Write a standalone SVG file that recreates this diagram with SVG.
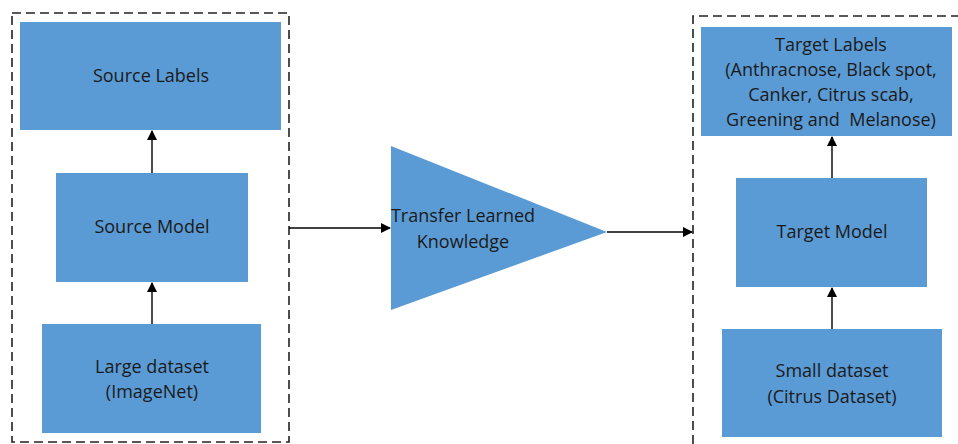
<svg xmlns="http://www.w3.org/2000/svg" width="958" height="444" viewBox="0 0 958 444">
<defs>
<marker id="ah" markerWidth="10" markerHeight="10" refX="9" refY="5" orient="auto" markerUnits="userSpaceOnUse">
<path d="M0,0 L10,5 L0,10 z" fill="#000"/>
</marker>
<style>
.box{fill:#5B9BD5;}
.grp{fill:none;stroke:#222;stroke-width:1.6;stroke-dasharray:9,5;}
.t{font-family:"Open Sans","Liberation Sans",sans-serif;font-size:18px;fill:#1a1a1a;text-anchor:middle;}
.c{fill:none;stroke:#000;stroke-width:1.4;}
</style>
</defs>
<rect width="958" height="444" fill="#fff"/>
<g id="source-domain">
<rect class="grp" x="12" y="13" width="277" height="429"/>
</g>
<g id="target-domain">
<path class="grp" d="M693,444 L693,16 L960,16"/>
</g>
<g id="source-labels">
<rect class="box" x="20" y="22" width="261" height="108"/>
<text class="t" x="151" y="82">Source Labels</text>
</g>
<g id="source-model">
<rect class="box" x="56" y="173" width="192" height="109"/>
<text class="t" x="152" y="233">Source Model</text>
</g>
<g id="large-dataset">
<rect class="box" x="42" y="324" width="219" height="109"/>
<text class="t" x="152" y="373">Large dataset</text>
<text class="t" x="152" y="398">(ImageNet)</text>
</g>
<g id="transfer">
<polygon class="box" points="391,146 607,232 391,310"/>
<text class="t" x="463" y="222">Transfer Learned</text>
<text class="t" x="463" y="248">Knowledge</text>
</g>
<g id="target-labels">
<rect class="box" x="701" y="27" width="251" height="109"/>
<text class="t" x="831" y="51">Target Labels</text>
<text class="t" x="831" y="76">(Anthracnose, Black spot,</text>
<text class="t" x="831" y="101">Canker, Citrus scab,</text>
<text class="t" x="831" y="126" style="white-space:pre">Greening and  Melanose)</text>
</g>
<g id="target-model">
<rect class="box" x="736" y="178" width="191" height="109"/>
<text class="t" x="832" y="238">Target Model</text>
</g>
<g id="small-dataset">
<rect class="box" x="722" y="329" width="220" height="108"/>
<text class="t" x="832" y="377">Small dataset</text>
<text class="t" x="832" y="403">(Citrus Dataset)</text>
</g>
<g id="connectors">
<line class="c" x1="152" y1="173" x2="152" y2="131" marker-end="url(#ah)"/>
<line class="c" x1="152" y1="324" x2="152" y2="283" marker-end="url(#ah)"/>
<line class="c" x1="289" y1="228" x2="390" y2="228" marker-end="url(#ah)"/>
<line class="c" x1="607" y1="232" x2="692" y2="232" marker-end="url(#ah)"/>
<line class="c" x1="832" y1="178" x2="832" y2="137" marker-end="url(#ah)"/>
<line class="c" x1="832" y1="329" x2="832" y2="288" marker-end="url(#ah)"/>
</g>
</svg>
